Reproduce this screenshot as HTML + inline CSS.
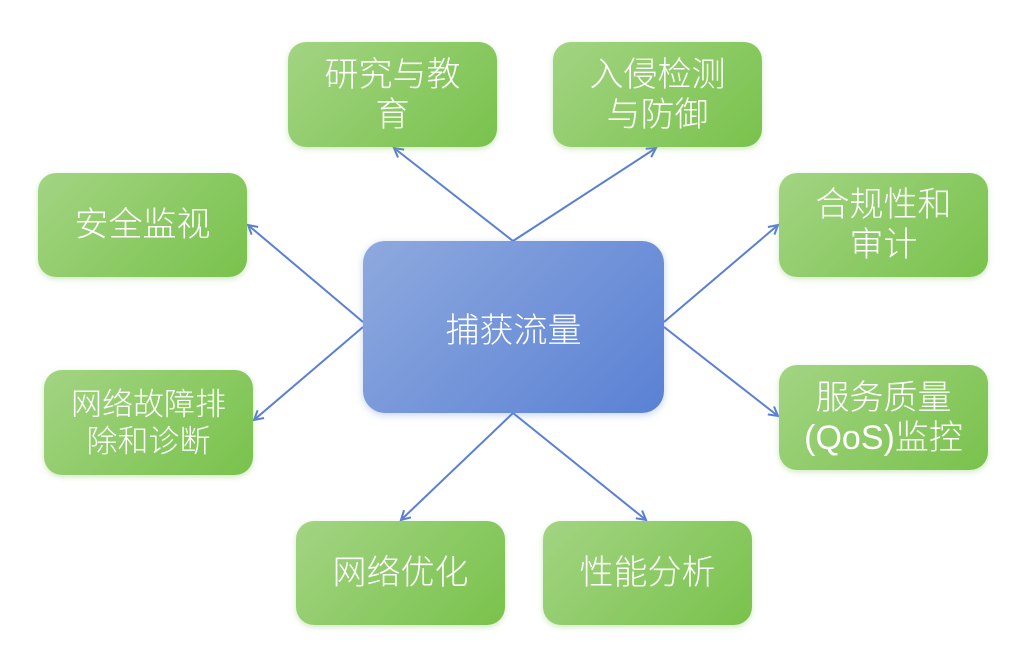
<!DOCTYPE html>
<html><head><meta charset="utf-8"><style>
html,body{margin:0;padding:0;background:#fff;}
body{width:1024px;height:666px;position:relative;overflow:hidden;font-family:"Liberation Sans","Noto Sans CJK SC",sans-serif;}
.b{position:absolute;border-radius:18px;background:linear-gradient(135deg,#a3d483,#79c24c);color:#fff;display:flex;align-items:center;justify-content:center;text-align:center;font-size:34px;line-height:40px;font-weight:300;box-shadow:0 2px 6px rgba(120,190,80,0.35);}
.c{position:absolute;left:363px;top:241px;width:301px;height:172px;border-radius:22px;background:linear-gradient(135deg,#8ea9de,#5a81d4);color:#fff;display:flex;align-items:center;justify-content:center;font-size:34px;font-weight:300;box-shadow:0 2px 8px rgba(90,130,210,0.35);}
svg{position:absolute;left:0;top:0;}
</style></head><body>
<svg width="1024" height="666">
<defs><marker id="a" markerWidth="12" markerHeight="12" refX="10" refY="6" orient="auto" markerUnits="userSpaceOnUse"><path d="M1,1 L10,6 L1,11" fill="none" stroke="#5a7fd6" stroke-width="2"/></marker></defs>
<g stroke="#5a7fd6" stroke-width="2" marker-end="url(#a)">
<line x1="513" y1="241" x2="394" y2="148"/>
<line x1="513" y1="241" x2="656" y2="148"/>
<line x1="363" y1="322" x2="248" y2="225"/>
<line x1="363" y1="327" x2="254" y2="420"/>
<line x1="664" y1="322" x2="778" y2="225"/>
<line x1="664" y1="327" x2="778" y2="416"/>
<line x1="513" y1="413" x2="401" y2="520"/>
<line x1="513" y1="413" x2="646" y2="520"/>
</g></svg>
<div class="b" style="left:288px;top:42px;width:209px;height:105px">研究与教<br>育</div>
<div class="b" style="left:553px;top:42px;width:209px;height:105px">入侵检测<br>与防御</div>
<div class="b" style="left:38px;top:173px;width:209px;height:104px">安全监视</div>
<div class="b" style="left:779px;top:173px;width:209px;height:104px">合规性和<br>审计</div>
<div class="b" style="left:44px;top:370px;width:209px;height:105px;font-size:31px;line-height:37px">网络故障排<br>除和诊断</div>
<div class="b" style="left:779px;top:365px;width:209px;height:105px">服务质量<br>(QoS)监控</div>
<div class="b" style="left:296px;top:521px;width:209px;height:104px">网络优化</div>
<div class="b" style="left:543px;top:521px;width:209px;height:104px">性能分析</div>
<div class="c">捕获流量</div>
</body></html>
